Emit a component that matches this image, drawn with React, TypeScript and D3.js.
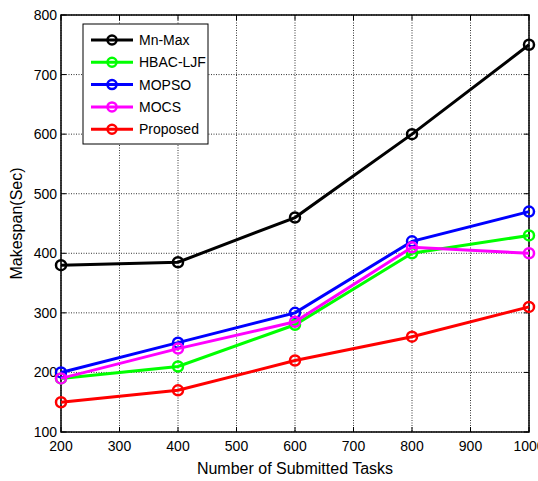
import React from 'react';
import * as d3 from 'd3';

// values
const tasks = [200, 400, 600, 800, 1000];
const mnMax = [380, 385, 460, 600, 750];
const hbacLjf = [190, 210, 280, 400, 430];
const mopso = [200, 250, 300, 420, 470];
const mocs = [190, 240, 285, 410, 400];
const proposed = [150, 170, 220, 260, 310];

const xTicks = [200, 300, 400, 500, 600, 700, 800, 900, 1000];
const yTicks = [100, 200, 300, 400, 500, 600, 700, 800];

const series = [
  { name: 'Mn-Max', color: '#000000', values: mnMax },
  { name: 'HBAC-LJF', color: '#00ff00', values: hbacLjf },
  { name: 'MOPSO', color: '#0000ff', values: mopso },
  { name: 'MOCS', color: '#ff00ff', values: mocs },
  { name: 'Proposed', color: '#ff0000', values: proposed },
];

const W = 538, H = 481;
const margin = { top: 15, right: 9, bottom: 49, left: 61 };
const font = 'Liberation Sans, Arial, sans-serif';

export default function App() {
  const iw = W - margin.left - margin.right;
  const ih = H - margin.top - margin.bottom;
  const x = d3.scaleLinear().domain([200, 1000]).range([0, iw]);
  const y = d3.scaleLinear().domain([100, 800]).range([ih, 0]);
  const line = d3.line<number>()
    .x((_, i) => x(tasks[i]))
    .y(d => y(d));

  const tick = 5;
  return (
    <svg width={W} height={H} style={{ position: 'absolute', left: 0, top: 0, background: '#fff' }}>
      <g transform={`translate(${margin.left},${margin.top})`} fontFamily={font}>
        {/* grid */}
        {xTicks.map(t => (
          <line key={'gx' + t} x1={x(t)} x2={x(t)} y1={0} y2={ih} stroke="#000" strokeWidth={0.8} strokeDasharray="1,1.5" />
        ))}
        {yTicks.map(t => (
          <line key={'gy' + t} x1={0} x2={iw} y1={y(t)} y2={y(t)} stroke="#000" strokeWidth={0.8} strokeDasharray="1,1.5" />
        ))}
        {/* ticks */}
        {xTicks.map(t => (
          <g key={'tx' + t}>
            <line x1={x(t)} x2={x(t)} y1={ih} y2={ih - tick} stroke="#000" />
            <line x1={x(t)} x2={x(t)} y1={0} y2={tick} stroke="#000" />
            <text x={x(t)} y={ih + 19} textAnchor="middle" fontSize={14}>{t}</text>
          </g>
        ))}
        {yTicks.map(t => (
          <g key={'ty' + t}>
            <line x1={0} x2={tick} y1={y(t)} y2={y(t)} stroke="#000" />
            <line x1={iw} x2={iw - tick} y1={y(t)} y2={y(t)} stroke="#000" />
            <text x={-4} y={y(t) + 5} textAnchor="end" fontSize={14}>{t}</text>
          </g>
        ))}
        <rect x={0} y={0} width={iw} height={ih} fill="none" stroke="#000" strokeWidth={1.5} />
        {/* series */}
        {series.map(s => (
          <g key={s.name}>
            <path d={line(s.values) || ''} fill="none" stroke={s.color} strokeWidth={3} />
            {s.values.map((v, i) => (
              <circle key={i} cx={x(tasks[i])} cy={y(v)} r={5} fill="none" stroke={s.color} strokeWidth={2.5} />
            ))}
          </g>
        ))}
        {/* legend */}
        <g transform="translate(22,9)">
          <rect x={0} y={0} width={125} height={120} fill="#fff" stroke="#000" strokeWidth={1} />
          {series.map((s, i) => (
            <g key={s.name} transform={`translate(0,${16 + i * 22.3})`}>
              <line x1={8} x2={50} y1={0} y2={0} stroke={s.color} strokeWidth={3} />
              <circle cx={29} cy={0} r={4.5} fill="none" stroke={s.color} strokeWidth={2.5} />
              <text x={56} y={5} fontSize={14}>{s.name}</text>
            </g>
          ))}
        </g>
        {/* axis labels */}
        <text x={iw / 2} y={ih + 42} textAnchor="middle" fontSize={16}>Number of Submitted Tasks</text>
        <text transform={`translate(${-39},${ih / 2}) rotate(-90)`} textAnchor="middle" fontSize={16}>Makespan(Sec)</text>
      </g>
    </svg>
  );
}
